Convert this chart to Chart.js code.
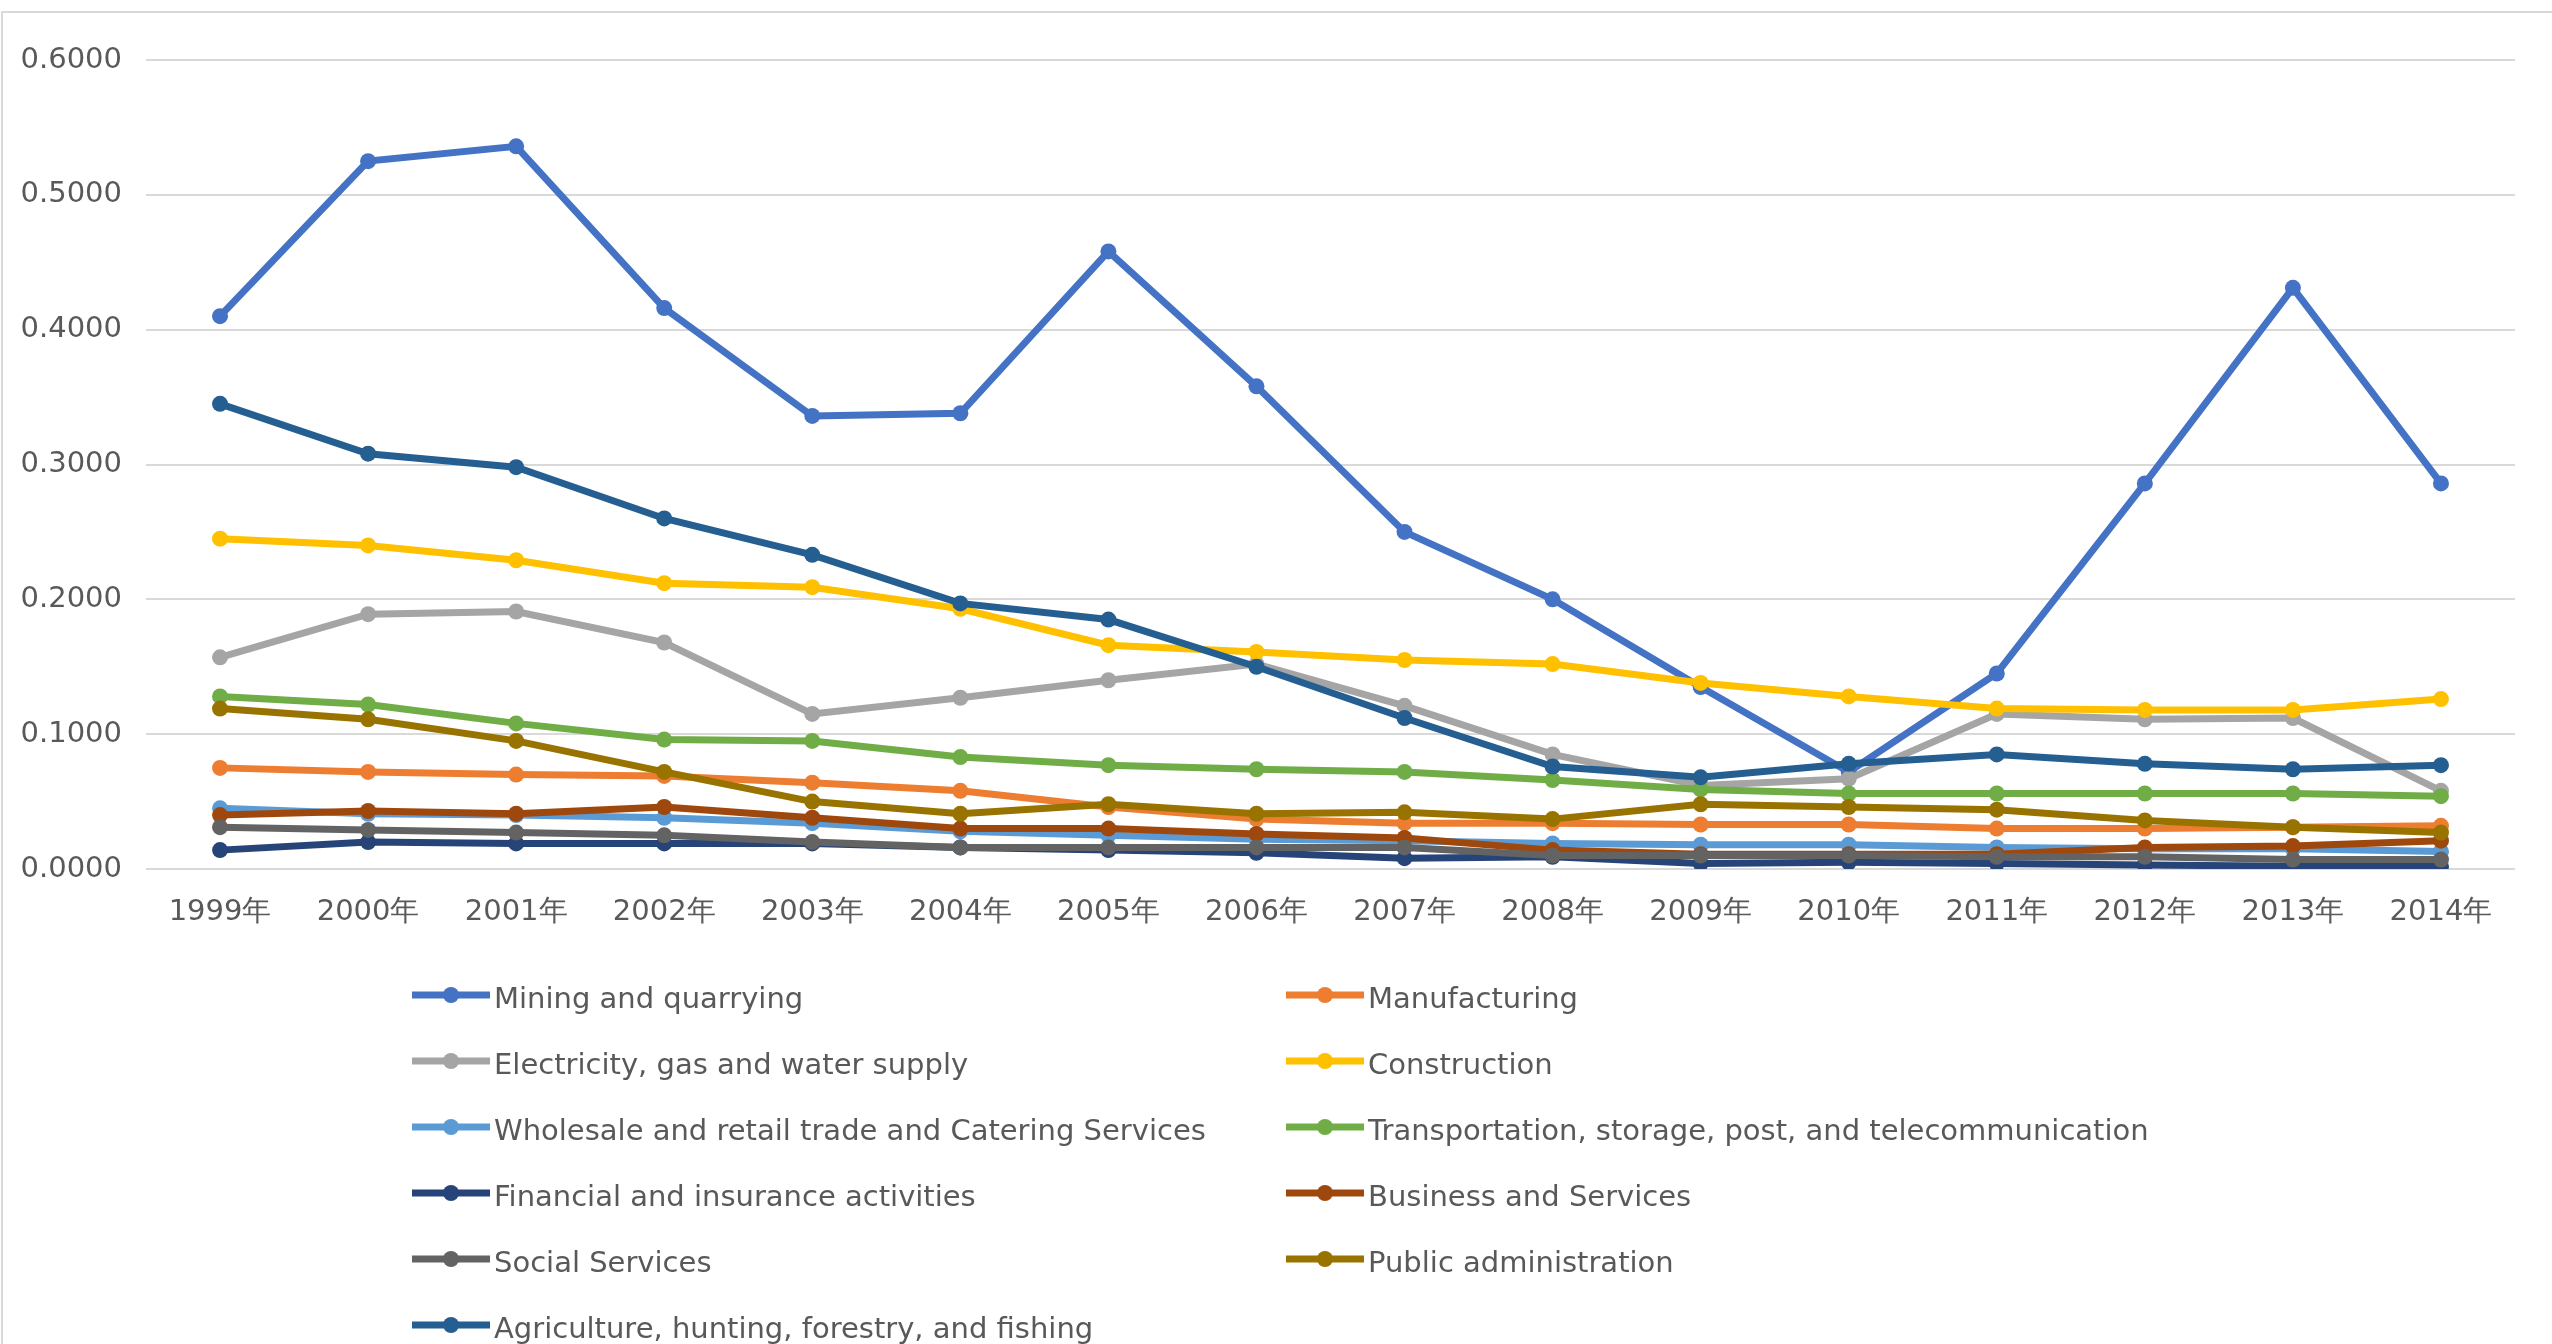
<!DOCTYPE html>
<html>
<head>
<meta charset="utf-8">
<script src="https://cdn.jsdelivr.net/npm/chart.js@4.4.1/dist/chart.umd.min.js"></script>
<style>
html, body { margin: 0; padding: 0; background: #fff; overflow: hidden; }
#wrap { position: relative; width: 2552px; height: 1344px; }
#frame { position: absolute; left: 1px; top: 11px; width: 2600px; height: 1400px; border: 2px solid #d9d9d9; box-sizing: border-box; }
#chart { position: absolute; left: 0; top: 0; }
</style>
</head>
<body>
<div id="wrap">
  <div id="frame"></div>
  <canvas id="chart" width="2552" height="1344"></canvas>
</div>
<script>
const years = ['1999年', '2000年', '2001年', '2002年', '2003年', '2004年', '2005年', '2006年',
    '2007年', '2008年', '2009年', '2010年', '2011年', '2012年', '2013年', '2014年'];

const mining = [0.410, 0.525, 0.536, 0.416, 0.336, 0.338, 0.458, 0.358, 0.250, 0.200, 0.135, 0.072, 0.145, 0.286, 0.431, 0.286];
const manufacturing = [0.075, 0.072, 0.070, 0.069, 0.064, 0.058, 0.046, 0.037, 0.034, 0.034, 0.033, 0.033, 0.030, 0.030, 0.031, 0.032];
const electricity = [0.157, 0.189, 0.191, 0.168, 0.115, 0.127, 0.140, 0.152, 0.121, 0.085, 0.062, 0.067, 0.115, 0.111, 0.112, 0.058];
const construction = [0.245, 0.240, 0.229, 0.212, 0.209, 0.193, 0.166, 0.161, 0.155, 0.152, 0.138, 0.128, 0.119, 0.118, 0.118, 0.126];
const wholesale = [0.045, 0.041, 0.040, 0.038, 0.034, 0.028, 0.025, 0.022, 0.021, 0.019, 0.018, 0.018, 0.016, 0.015, 0.015, 0.013];
const transport = [0.128, 0.122, 0.108, 0.096, 0.095, 0.083, 0.077, 0.074, 0.072, 0.066, 0.059, 0.056, 0.056, 0.056, 0.056, 0.054];
const financial = [0.014, 0.020, 0.019, 0.019, 0.019, 0.016, 0.014, 0.012, 0.008, 0.009, 0.004, 0.005, 0.004, 0.003, 0.002, 0.002];
const business = [0.040, 0.043, 0.041, 0.046, 0.038, 0.030, 0.030, 0.026, 0.023, 0.014, 0.011, 0.011, 0.011, 0.016, 0.017, 0.021];
const social = [0.031, 0.029, 0.027, 0.025, 0.020, 0.016, 0.016, 0.016, 0.016, 0.010, 0.010, 0.010, 0.009, 0.009, 0.007, 0.007];
const publicAdmin = [0.119, 0.111, 0.095, 0.072, 0.050, 0.041, 0.048, 0.041, 0.042, 0.037, 0.048, 0.046, 0.044, 0.036, 0.031, 0.027];
const agriculture = [0.345, 0.308, 0.298, 0.260, 0.233, 0.197, 0.185, 0.150, 0.112, 0.076, 0.068, 0.078, 0.085, 0.078, 0.074, 0.077];

const yTicks = [0, 0.1, 0.2, 0.3, 0.4, 0.5, 0.6];

const series = [
    ['Mining and quarrying', mining, '#4472C4'],
    ['Manufacturing', manufacturing, '#ED7D31'],
    ['Electricity, gas and water supply', electricity, '#A5A5A5'],
    ['Construction', construction, '#FFC000'],
    ['Wholesale and retail trade and Catering Services', wholesale, '#5B9BD5'],
    ['Transportation, storage, post, and telecommunication', transport, '#70AD47'],
    ['Financial and insurance activities', financial, '#264478'],
    ['Business and Services', business, '#9E480E'],
    ['Social Services', social, '#636363'],
    ['Public administration', publicAdmin, '#997300'],
    ['Agriculture, hunting, forestry, and fishing', agriculture, '#255E91']
];

const FONT = '"DejaVu Sans", sans-serif';
const TEXT = '#595959';

// legend in two columns under the plot, like the Excel one
const legendPlugin = {
    id: 'twoColLegend',
    afterDraw(chart) {
        const ctx = chart.ctx;
        ctx.save();
        ctx.font = '29px ' + FONT;
        ctx.textBaseline = 'middle';
        chart.data.datasets.forEach((ds, i) => {
            const col = i % 2;
            const row = Math.floor(i / 2);
            const x0 = col === 0 ? 412 : 1286;
            const y = 995 + row * 66;
            ctx.strokeStyle = ds.borderColor;
            ctx.lineWidth = 7;
            ctx.beginPath();
            ctx.moveTo(x0, y);
            ctx.lineTo(x0 + 78, y);
            ctx.stroke();
            ctx.fillStyle = ds.borderColor;
            ctx.beginPath();
            ctx.arc(x0 + 39, y, 8, 0, Math.PI * 2);
            ctx.fill();
            ctx.fillStyle = TEXT;
            ctx.fillText(ds.label, x0 + 82, y + 5);
        });
        ctx.restore();
    }
};

new Chart(document.getElementById('chart'), {
    type: 'line',
    data: {
        labels: years,
        datasets: series.map((s, i) => ({
            label: s[0],
            data: s[1],
            borderColor: s[2],
            backgroundColor: s[2],
            borderWidth: 7,
            pointRadius: 8,
            pointBorderWidth: 0,
            pointBackgroundColor: s[2],
            tension: 0,
            order: -i
        }))
    },
    options: {
        responsive: false,
        animation: false,
        devicePixelRatio: 1,
        layout: {
            padding: { left: 0, right: 37, top: 60, bottom: 395 }
        },
        plugins: {
            legend: { display: false },
            tooltip: { enabled: false }
        },
        scales: {
            x: {
                offset: true,
                afterFit: (scale) => { scale.height = 80; },
                grid: { display: false, drawTicks: false },
                border: { display: false },
                ticks: {
                    color: TEXT,
                    font: { family: FONT, size: 29 },
                    padding: 26,
                    maxRotation: 0,
                    autoSkip: false
                }
            },
            y: {
                min: 0,
                max: 0.6,
                afterFit: (scale) => { scale.width = 146; },
                afterBuildTicks: (scale) => { scale.ticks = yTicks.map(v => ({ value: v })); },
                grid: { color: '#d9d9d9', lineWidth: 2, drawTicks: false },
                border: { display: false },
                ticks: {
                    color: TEXT,
                    font: { family: FONT, size: 29 },
                    padding: 24,
                    callback: (v) => v.toFixed(4)
                }
            }
        }
    },
    plugins: [legendPlugin]
});
</script>
</body>
</html>
